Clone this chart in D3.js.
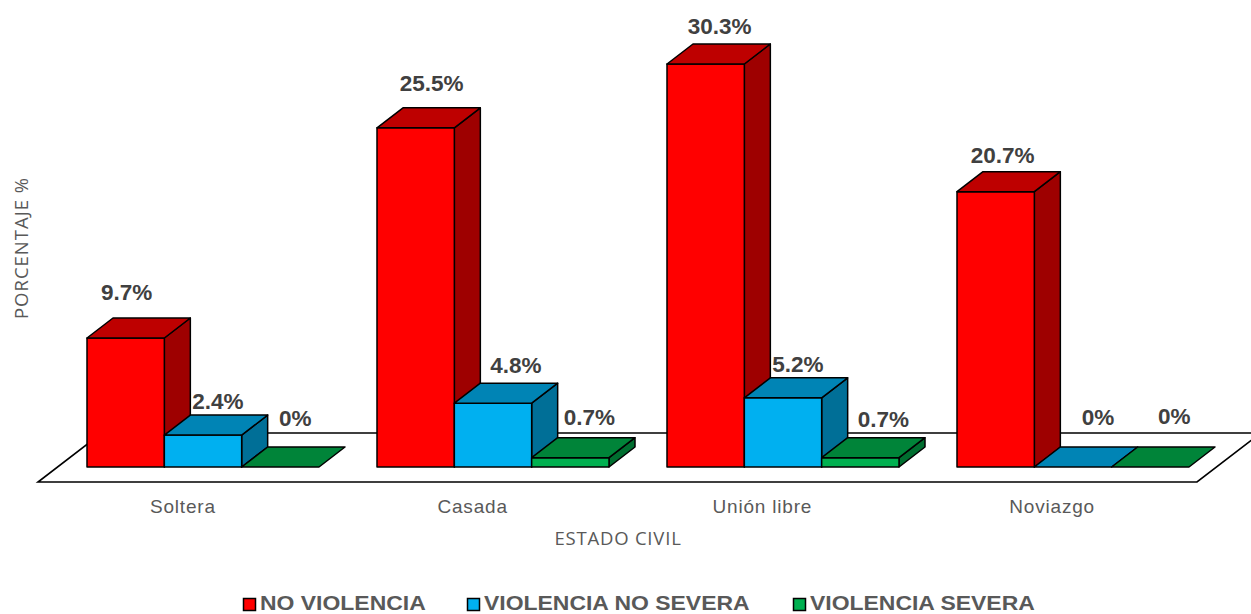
<!DOCTYPE html>
<html><head><meta charset="utf-8">
<script src="https://cdnjs.cloudflare.com/ajax/libs/d3/7.8.5/d3.min.js"></script>
<style>html,body{margin:0;padding:0;background:#fff;overflow:hidden}svg{display:block}</style>
</head><body><svg id="c" width="1251" height="614"></svg>
<script>
const categories = ["Soltera","Casada","Unión libre","Noviazgo"];
const seriesNames = ["NO VIOLENCIA","VIOLENCIA NO SEVERA","VIOLENCIA SEVERA"];
const noViolencia = [9.7,25.5,30.3,20.7];
const violenciaNoSevera = [2.4,4.8,5.2,0];
const violenciaSevera = [0,0.7,0.7,0];
const labelsNoViolencia = ["9.7%","25.5%","30.3%","20.7%"];
const labelsNoSevera = ["2.4%","4.8%","5.2%","0%"];
const labelsSevera = ["0%","0.7%","0.7%","0%"];

const seriesValues = [noViolencia, violenciaNoSevera, violenciaSevera];
const seriesLabels = [labelsNoViolencia, labelsNoSevera, labelsSevera];
const palette = [
 {front:"#FF0000",top:"#BE0000",side:"#9E0000"},
 {front:"#00B0F0",top:"#0084B5",side:"#006F97"},
 {front:"#00B050",top:"#008439",side:"#006E30"}];
// manual label nudges [dx,dy] relative to the default spot, per series / category
const nudges = [
 [[-12,-17],[3,-16],[1,-9],[-6,-8]],
 [[2,-5],[10,-9],[2,-5],[12,-21]],
 [[2,-20],[6,-12],[10,-10],[11,-22]]];

const svg = d3.select("#c");
const depthX = 26, depthY = -20;
const floorFront = 482, floorBack = 433;

const x0 = d3.scaleBand().domain(categories).range([58,1218]).paddingInner(0.2).paddingOuter(0.1);
const x1 = d3.scaleBand().domain(d3.range(3)).range([0,x0.bandwidth()]);
const y = d3.scaleLinear().domain([0,30.3]).range([467,64]);
const axisX = d3.scaleBand().domain(categories).range([38,1197]);

// floor
const fdx = (floorFront-floorBack)*depthX/(-depthY);
svg.append("path")
 .attr("d",`M38,${floorFront}L1197,${floorFront}L${1197+fdx},${floorBack}L${38+fdx},${floorBack}Z`)
 .attr("fill","#fff").attr("stroke","#000").attr("stroke-width",1.6);

// bars
const line = d3.line();
categories.forEach((c,ci)=>{
 seriesValues.forEach((vals,si)=>{
  const xl = x0(c)+x1(si), xr = xl+x1.bandwidth();
  const yb = y(0), yt = y(vals[ci]);
  const g = svg.append("g").attr("stroke","#000").attr("stroke-width",1.5).attr("stroke-linejoin","round");
  const col = palette[si];
  if(vals[ci]>0){
   g.append("path").attr("fill",col.side).attr("d",line([[xr,yb],[xr+depthX,yb+depthY],[xr+depthX,yt+depthY],[xr,yt]])+"Z");
   g.append("rect").attr("x",xl).attr("y",yt).attr("width",xr-xl).attr("height",yb-yt).attr("fill",col.front);
  }
  g.append("path").attr("fill",col.top).attr("d",line([[xl,yt],[xr,yt],[xr+depthX,yt+depthY],[xl+depthX,yt+depthY]])+"Z");
 });
});

// data labels
categories.forEach((c,ci)=>{
 seriesValues.forEach((vals,si)=>{
  const cx = x0(c)+x1(si)+x1.bandwidth()/2+depthX/2;
  const n = nudges[si][ci];
  svg.append("text").attr("x",cx+n[0]).attr("y",y(vals[ci])+depthY-8+n[1]+7)
   .attr("text-anchor","middle").attr("font-family","Liberation Sans")
   .attr("font-weight","bold").attr("font-size",22.5).attr("fill","#404040").text(seriesLabels[si][ci]);
 });
});

// category axis
const ax = svg.append("g").attr("transform","translate(0,496)").call(d3.axisBottom(axisX).tickSize(0).tickPadding(3));
ax.select(".domain").remove();
ax.selectAll("text").attr("font-family","Liberation Sans").attr("font-size",19).attr("letter-spacing",0.8).attr("fill","#595959");

// axis titles
svg.append("text").attr("x",618).attr("y",545).attr("text-anchor","middle")
 .attr("font-family","Open Sans").attr("font-size",18.5).attr("letter-spacing",0.8).attr("fill","#595959").text("ESTADO CIVIL");
svg.append("text").attr("transform","translate(28,248) rotate(-90)").attr("text-anchor","middle")
 .attr("font-family","Open Sans").attr("font-size",18.5).attr("letter-spacing",1).attr("fill","#595959").text("PORCENTAJE %");

// legend
const legendX = [243,467,793];
seriesNames.forEach((s,i)=>{
 svg.append("rect").attr("x",legendX[i]+.5).attr("y",598.5).attr("width",12).attr("height",12)
  .attr("fill",palette[i].front).attr("stroke","#000").attr("stroke-width",1.5);
 svg.append("text").attr("transform",`translate(${legendX[i]+17},609.5) scale(1.12,1)`).attr("font-family","Liberation Sans")
  .attr("font-weight","bold").attr("font-size",20.5).attr("fill","#595959").text(s);
});
</script></body></html>
